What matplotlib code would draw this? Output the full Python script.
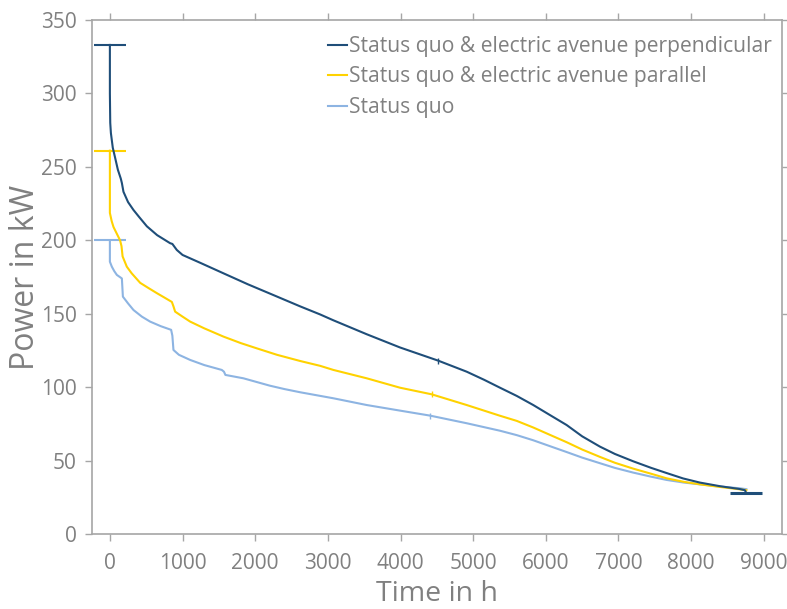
import matplotlib.pyplot as plt

# Sorted load duration curves, power in kW over hours of the year
hours_perp = [0, 0, 5, 14, 40, 73, 110, 150, 165, 187, 250, 325, 400, 509, 650, 829, 860, 921,
              1000, 1250, 1563, 1900, 2250, 2618, 2893, 3076, 3535, 3993, 4520, 4911, 5150,
              5369, 5600, 5827, 6056, 6286, 6500, 6744, 6950, 7202, 7450, 7662, 7890, 8120,
              8400, 8670, 8740, 8760]
power_perp = [333, 300, 280, 273, 263, 256, 248, 242, 239, 233, 226, 220.6, 216, 209.5, 203.5,
              198, 197.5, 193.4, 190, 184.5, 177.5, 170, 162.7, 155, 149.5, 145.5, 136, 127,
              118, 110.5, 105, 99.6, 94, 87.8, 81, 74.2, 66.5, 59.5, 54.5, 49.5, 45, 41.5, 37.8,
              35, 32.5, 30.6, 29.8, 27.7]

hours_par = [0, 0, 25, 50, 100, 140, 160, 175, 233, 300, 417, 530, 646, 750, 853, 875, 898,
             1000, 1105, 1300, 1563, 1800, 2022, 2300, 2618, 2893, 3076, 3535, 3993, 4429,
             4911, 5369, 5600, 5827, 6056, 6286, 6500, 6744, 6950, 7202, 7450, 7662, 7900,
             8120, 8400, 8670, 8760]
power_par = [261, 218.6, 213, 209, 204, 200, 196, 189, 182, 177.5, 171, 167.5, 164, 161, 158,
             155, 151.4, 148, 144.6, 140, 134.4, 130, 126.4, 122, 117.8, 114.5, 111.7, 106,
             99.6, 95.1, 87.8, 80.5, 77, 72.5, 67.5, 62.5, 57.5, 52.5, 48.5, 44.5, 41, 37.9,
             35.5, 33.8, 32, 30.4, 29.8]

hours_sq = [0, 0, 27, 60, 96, 165, 179, 250, 325, 440, 554, 700, 843, 860, 875, 950, 1105,
            1300, 1540, 1570, 1590, 1838, 2200, 2400, 2618, 3076, 3535, 3993, 4406, 4911,
            5369, 5600, 5827, 6056, 6286, 6500, 6744, 6950, 7202, 7450, 7662, 7900, 8120,
            8400, 8670, 8760]
power_sq = [200, 185.4, 182, 179, 176.4, 174, 161.6, 157, 152.5, 148, 144.6, 141.5, 139, 135,
            125.3, 122, 118.5, 115, 111.7, 110.5, 108.3, 106, 101, 98.7, 96.5, 92.4, 87.8, 84,
            80.6, 75.4, 70.3, 67.3, 63.8, 59.8, 55.8, 52, 48.2, 45, 41.8, 39, 36.8, 35, 33.8,
            32.3, 31.1, 30.5]

labels = ['Status quo & electric avenue perpendicular',
          'Status quo & electric avenue parallel',
          'Status quo']
colors = ['#1f4e79', '#ffd200', '#8db4e2']

plt.rcParams['font.family'] = ['Open Sans', 'DejaVu Sans']
grey = '#808080'

fig = plt.figure(figsize=(7.87, 6.09), dpi=100)
ax = fig.add_axes([0.117, 0.1232, 0.8766, 0.844])

series = [(hours_sq, power_sq, colors[2], labels[2], 4406),
          (hours_par, power_par, colors[1], labels[1], 4429),
          (hours_perp, power_perp, colors[0], labels[0], 4520)]

handles = {}
for hours, power, color, label, tick_at in series:
    line, = ax.plot(hours, power, color=color, linewidth=1.5, label=label)
    handles[label] = line
    # cap marking the peak value
    ax.plot(hours[:1], power[:1], marker='_', markersize=23, markeredgewidth=1.5,
            color=color, linestyle='none')
    # small tick on the curve
    i = hours.index(tick_at)
    ax.plot(hours[i], power[i], marker='|', markersize=5, markeredgewidth=1,
            color=color, linestyle='none')

# cap at the minimum of the perpendicular curve
ax.plot(hours_perp[-1:], power_perp[-1:], marker='_', markersize=23, markeredgewidth=2.2,
        color=colors[0], linestyle='none')

ax.set_xlim(-245, 9250)
ax.set_ylim(0, 350)
ax.set_xticks(range(0, 9001, 1000))
ax.set_yticks(range(0, 351, 50))

for side in ['left', 'right', 'top', 'bottom']:
    ax.spines[side].set_color('#a6a6a6')
    ax.spines[side].set_linewidth(1.2)
ax.tick_params(which='both', direction='out', length=5, width=1, color='#a6a6a6',
               labelcolor=grey, labelsize=15, top=True, right=True, pad=6)
ax.tick_params(axis='x', pad=9)

ax.set_xlabel('Time in h', fontsize=20.5, color=grey, labelpad=4)
ax.set_ylabel('Power in kW', fontsize=23, color=grey)
ax.yaxis.set_label_coords(-0.073, 0.5)

ax.legend([handles[l] for l in labels], labels, loc='upper right', frameon=False,
          fontsize=15.2, handlelength=0.9, handletextpad=0.12, labelspacing=0.45,
          labelcolor=grey, borderaxespad=0, bbox_to_anchor=(0.998, 0.9854))

fig.savefig('out.png', dpi=100)
